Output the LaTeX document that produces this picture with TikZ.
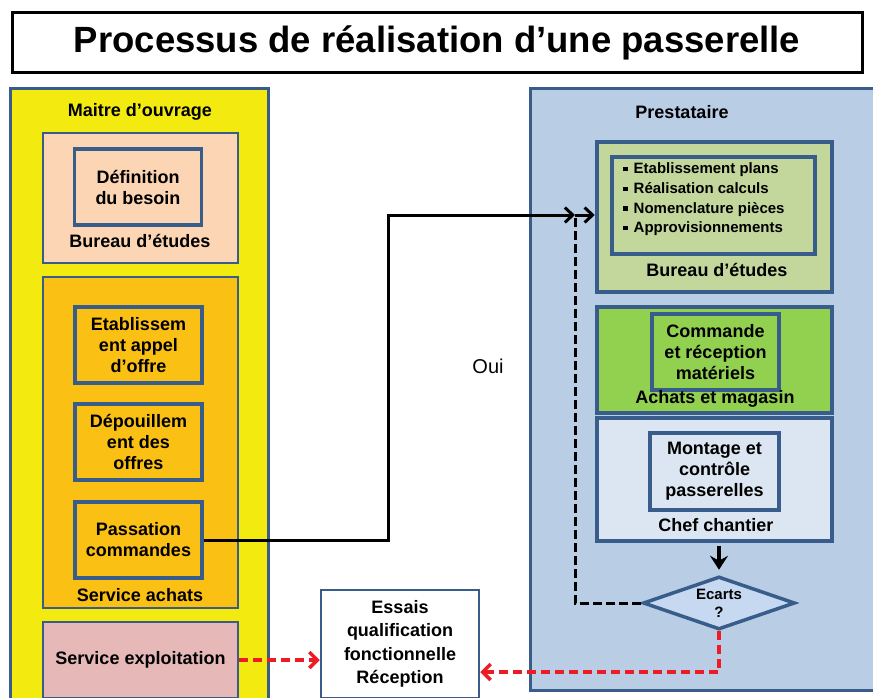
\documentclass[tikz,border=0pt]{standalone}
\usepackage{fontspec}
\setmainfont{Liberation Sans}
\usetikzlibrary{positioning,shapes.geometric,calc,arrows.meta}

\definecolor{bordblue}{RGB}{56,93,138}
\definecolor{moayellow}{RGB}{243,234,16}
\definecolor{peach}{RGB}{252,213,180}
\definecolor{orangeach}{RGB}{250,192,20}
\definecolor{pinkexp}{RGB}{230,185,184}
\definecolor{prestblue}{RGB}{185,205,229}
\definecolor{lightgreen}{RGB}{195,214,155}
\definecolor{midgreen}{RGB}{146,208,80}
\definecolor{paleblue}{RGB}{220,230,242}
\definecolor{diamblue}{RGB}{198,217,241}
\definecolor{redline}{RGB}{237,28,36}

\newcommand{\blt}{\raisebox{2.5pt}{\rule{4.5pt}{4.5pt}}\hspace{6pt}}

\begin{document}
\begin{tikzpicture}[x=1pt,y=-1pt,
  titlebox/.style={rectangle,draw,line width=3pt,fill=white,minimum width=850,minimum height=60,font=\fontsize{36.5}{40}\selectfont\bfseries},
  panel/.style={rectangle,draw=bordblue,line width=3pt,fill=#1,inner sep=0pt},
  grp/.style={rectangle,draw=bordblue,line width=2pt,fill=#1,inner sep=0pt},
  grpr/.style={rectangle,draw=bordblue,line width=4.5pt,fill=#1,inner sep=0pt},
  task/.style={rectangle,draw=bordblue,line width=3.5pt,inner sep=0pt,align=center,minimum width=127,minimum height=76,font=\fontsize{18}{21}\selectfont\bfseries},
  head/.style={font=\fontsize{18}{21}\selectfont\bfseries,inner sep=1pt},
  arr/.style={-{Straight Barb[length=8pt,width=15pt]},line width=3pt},
  redarr/.style={-{Straight Barb[length=8pt,width=16pt]},line width=3.5pt,redline,dash pattern=on 9pt off 5pt},
]
\useasboundingbox (0,0) rectangle (873,698);

% Title
\node[titlebox] (title) at (437,43) {Processus de réalisation d’une passerelle};

% Maitre d'ouvrage
\node[panel=moayellow,minimum width=258,minimum height=640] (moa) at (139,409) {};
\node[head] (moalbl) at (140,112) {Maitre d’ouvrage};

\node[grp=peach,minimum width=195,minimum height=130] (be1) at (140.5,198) {};
\node[task,fill=peach] (besoin) at (138,187) {Définition\\du besoin};
\node[head] (be1lbl) at (140,241) {Bureau d’études};

\node[grp=orangeach,minimum width=195,minimum height=331] (achats) at (140.5,442.5) {};
\node[task,fill=orangeach] (appel) at (138.5,345) {Etablissem\\ent appel\\d’offre};
\node[task,fill=orangeach] (depouil) at (138.5,442) {Dépouillem\\ent des\\offres};
\node[task,fill=orangeach] (passation) at (138.5,540) {Passation\\commandes};
\node[head] (achatslbl) at (140,595) {Service achats};

\node[grp=pinkexp,minimum width=195,minimum height=76,head] (exploit) at (140.5,660) {Service exploitation};

% Prestataire
\node[panel=prestblue,minimum width=360,minimum height=601] (prest) at (710,389.5) {};
\node[head] (prestlbl) at (682,112) {Prestataire};

\node[grpr=lightgreen,minimum width=235,minimum height=150] (be2) at (714.5,217) {};
\node[task,fill=lightgreen,line width=4.5pt,minimum width=203,minimum height=97] (plans) at (713.5,205.5) {};
\node[font=\fontsize{15}{19.7}\selectfont\bfseries,align=left,anchor=west,inner sep=0pt] (planslist) at (623,199.5)
  {\blt Etablissement plans\\\blt Réalisation calculs\\\blt Nomenclature pièces\\\blt Approvisionnements};
\node[head] (be2lbl) at (717,270) {Bureau d’études};

\node[grpr=midgreen,minimum width=235,minimum height=106] (mag) at (714.5,360) {};
\node[task,fill=midgreen,line width=4.5pt] (cmd) at (715.5,352) {Commande\\et réception\\matériels};
\node[head] (maglbl) at (715,398.5) {Achats et magasin};

\node[grpr=paleblue,minimum width=235,minimum height=123] (chef) at (714.5,479.5) {};
\node[task,fill=paleblue,line width=4.5pt,minimum width=129,minimum height=77] (montage) at (714.5,471.5) {Montage et\\contrôle\\passerelles};
\node[head] (cheflbl) at (716,525) {Chef chantier};

\node[diamond,aspect=2.87,draw=bordblue,line width=3.5pt,fill=diamblue,minimum width=152,minimum height=53,inner sep=0pt,align=center,font=\fontsize{15}{18}\selectfont\bfseries] (ecarts) at (719,603) {Ecarts\\?};

% Essais
\node[rectangle,draw=bordblue,line width=2.5pt,fill=white,minimum width=158,minimum height=108,align=center,font=\fontsize{18}{23.5}\selectfont\bfseries] (essais) at (400,644) {Essais\\qualification\\fonctionnelle\\Réception};

\node[font=\fontsize{20}{22}\selectfont] (oui) at (488,366) {Oui};

% Connectors
\coordinate (jn) at (575,215);
\draw[arr] (passation.east) -- (388,540) |- (jn);
\draw[line width=3pt,dash pattern=on 9pt off 4pt] (ecarts.west) -| (jn);
\draw[arr] (jn) -- (jn -| be2.west);
\draw[-{Stealth[length=14pt,width=18pt,inset=5pt]},line width=4pt] ($(ecarts.north)+(0,-29)$) -- ($(ecarts.north)+(0,-5)$);
\draw[redarr] (exploit.east) -- (exploit.east -| essais.west);
\draw[redarr] (ecarts.south) |- ([yshift=-28pt]essais.east);

\end{tikzpicture}
\end{document}
